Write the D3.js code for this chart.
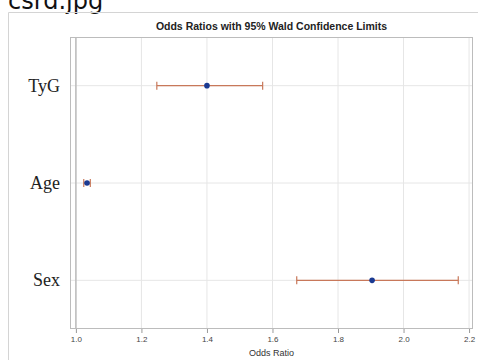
<!DOCTYPE html>
<html>
<head>
<meta charset="utf-8">
<script src="https://cdn.jsdelivr.net/npm/d3@7"></script>
<style>
  body { margin: 0; background: #fff; }
  svg { display: block; }
</style>
</head>
<body>
<script>
// effects
const effects = ["TyG", "Age", "Sex"];
const estimates = [1.40, 1.034, 1.904];
const lowerCL = [1.247, 1.024, 1.674];
const upperCL = [1.570, 1.044, 2.167];
const xTicks = [1.0, 1.2, 1.4, 1.6, 1.8, 2.0, 2.2];

const width = 478, height = 360;
const plot = {left: 70, right: 473, top: 37, bottom: 329};

const svg = d3.select("body").append("svg")
    .attr("width", width)
    .attr("height", height);

// file name caption, clipped at the top like the screenshot
svg.append("text")
    .attr("x", 8).attr("y", 9)
    .attr("font-family", "DejaVu Sans, sans-serif")
    .attr("font-size", 24)
    .attr("fill", "#111")
    .text("csrd.jpg");

// outer image frame
svg.append("path")
    .attr("d", `M8.5,${height} V12.5 H${width}`)
    .attr("fill", "none")
    .attr("stroke", "#d4d4d4");

let x = d3.scaleLinear()
    .domain([0.982, 2.212])
    .range([plot.left, plot.right]);

let y = d3.scalePoint()
    .domain(effects)
    .range([plot.top, plot.bottom])
    .padding(0.5);

// grid
let grid = svg.append("g").attr("stroke", "#e6e6e6");
xTicks.forEach((t) => {
    grid.append("line")
        .attr("x1", x(t)).attr("x2", x(t))
        .attr("y1", plot.top).attr("y2", plot.bottom);
});
effects.forEach((e) => {
    grid.append("line")
        .attr("x1", plot.left).attr("x2", plot.right)
        .attr("y1", y(e)).attr("y2", y(e));
});

// reference line at 1
svg.append("line")
    .attr("x1", x(1)).attr("x2", x(1))
    .attr("y1", plot.top).attr("y2", plot.bottom)
    .attr("stroke", "#b4b4b4")
    .attr("stroke-width", 1.3);

// plot frame
svg.append("rect")
    .attr("x", plot.left + 0.5).attr("y", plot.top + 0.5)
    .attr("width", plot.right - plot.left - 1)
    .attr("height", plot.bottom - plot.top - 1)
    .attr("fill", "none")
    .attr("stroke", "#bcbcbc");

// x axis
let xAxis = svg.append("g")
    .attr("transform", `translate(0,${plot.bottom})`)
    .call(d3.axisBottom(x).tickValues(xTicks).tickFormat(d3.format(".1f")).tickSize(4).tickPadding(3));
xAxis.select(".domain").remove();
xAxis.selectAll("line").attr("stroke", "#999");
xAxis.selectAll("text")
    .attr("font-family", "Liberation Sans, Arial, sans-serif")
    .attr("font-size", 8)
    .attr("fill", "#444");

svg.append("text")
    .attr("x", (plot.left + plot.right) / 2)
    .attr("y", 356)
    .attr("text-anchor", "middle")
    .attr("font-family", "Liberation Sans, Arial, sans-serif")
    .attr("font-size", 9)
    .attr("fill", "#333")
    .text("Odds Ratio");

// row labels
svg.append("g").selectAll("text")
    .data(effects)
    .join("text")
    .attr("x", 60)
    .attr("y", (d) => y(d))
    .attr("dy", "0.33em")
    .attr("text-anchor", "end")
    .attr("font-family", "Liberation Serif, Times New Roman, serif")
    .attr("font-size", 18)
    .attr("fill", "#222")
    .text((d) => d);

// title
svg.append("text")
    .attr("x", (plot.left + plot.right) / 2)
    .attr("y", 30)
    .attr("text-anchor", "middle")
    .attr("font-family", "Liberation Sans, Arial, sans-serif")
    .attr("font-weight", "bold")
    .attr("font-size", 10.5)
    .attr("fill", "#222")
    .text("Odds Ratios with 95% Wald Confidence Limits");

// confidence limits
let ci = svg.append("g")
    .attr("stroke", "#c8785a")
    .attr("stroke-width", 1.2);
effects.forEach((e, i) => {
    let cy = y(e);
    ci.append("line")
        .attr("x1", x(lowerCL[i])).attr("x2", x(upperCL[i]))
        .attr("y1", cy).attr("y2", cy);
    [lowerCL[i], upperCL[i]].forEach((v) => {
        ci.append("line")
            .attr("x1", x(v)).attr("x2", x(v))
            .attr("y1", cy - 4).attr("y2", cy + 4);
    });
});

// estimates
svg.append("g").selectAll("circle")
    .data(effects)
    .join("circle")
    .attr("cx", (d, i) => x(estimates[i]))
    .attr("cy", (d) => y(d))
    .attr("r", 2.8)
    .attr("fill", "#1a3a92");
</script>
</body>
</html>
